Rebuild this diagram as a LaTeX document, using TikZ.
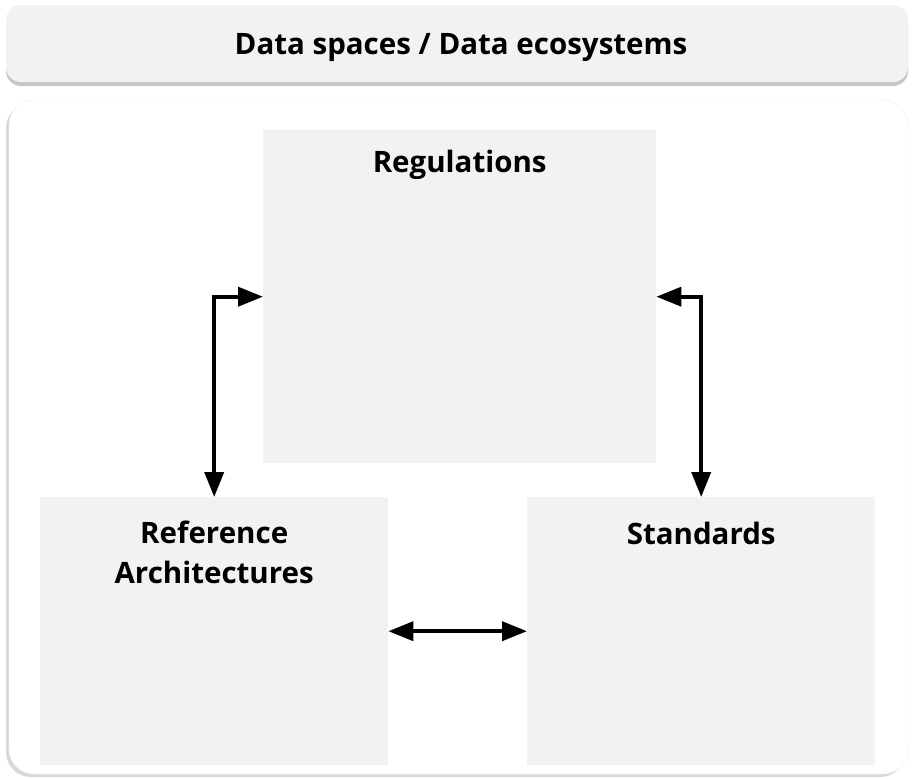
\documentclass[tikz,border=0pt]{standalone}
\usepackage{fontspec}
\setmainfont{Open Sans}
\usetikzlibrary{arrows.meta,shadows,positioning}

\definecolor{boxgray}{RGB}{242,242,242}

\tikzset{
    block/.style={
        fill=boxgray,
        draw=none,
        anchor=north west,
        inner sep=0pt
    },
    title/.style={
        font=\bfseries\fontsize{29.5}{40}\selectfont,
        align=center,
        inner sep=0pt
    },
    link/.style={
        {Triangle[length=25pt,width=19pt]}-{Triangle[length=25pt,width=19pt]},
        line width=3.8pt
    }
}

\begin{document}
\begin{tikzpicture}[x=1pt, y=-1pt]

    \useasboundingbox (0,0) rectangle (913,779);

    % header
    \draw[
            fill=boxgray,
            draw=none,
            rounded corners=15pt,
            drop shadow={shadow xshift=0pt, shadow yshift=-4pt, opacity=0.45}
        ]
        (6,5) rectangle (908,82);
    \node[title] (header) at (461,48) {Data spaces / Data ecosystems};

    % panel
    \draw[
            fill=white,
            draw=black!6,
            rounded corners=25pt,
            drop shadow={shadow xshift=-3pt, shadow yshift=-3pt, opacity=0.3}
        ]
        (9,100) rectangle (908,774);

    % boxes
    \node[block, minimum width=393pt, minimum height=333pt] (reg) at (263,130) {};
    \node[block, minimum width=348pt, minimum height=268pt] (ref) at (40,497) {};
    \node[block, minimum width=348pt, minimum height=268pt] (std) at (527,497) {};

    \node[title] (reg_text) at ([yshift=-35pt]reg.north) {Regulations};
    \node[title] (ref_text) at ([yshift=-55pt]ref.north) {Reference\\Architectures};
    \node[title] (std_text) at ([yshift=-36pt]std.north) {Standards};

    % arrows
    \draw[link]
        (ref.north) |-
        (reg.west);

    \draw[link]
        (std.north) |-
        (reg.east);

    \draw[link]
        (ref.east) --
        (std.west);

\end{tikzpicture}
\end{document}
